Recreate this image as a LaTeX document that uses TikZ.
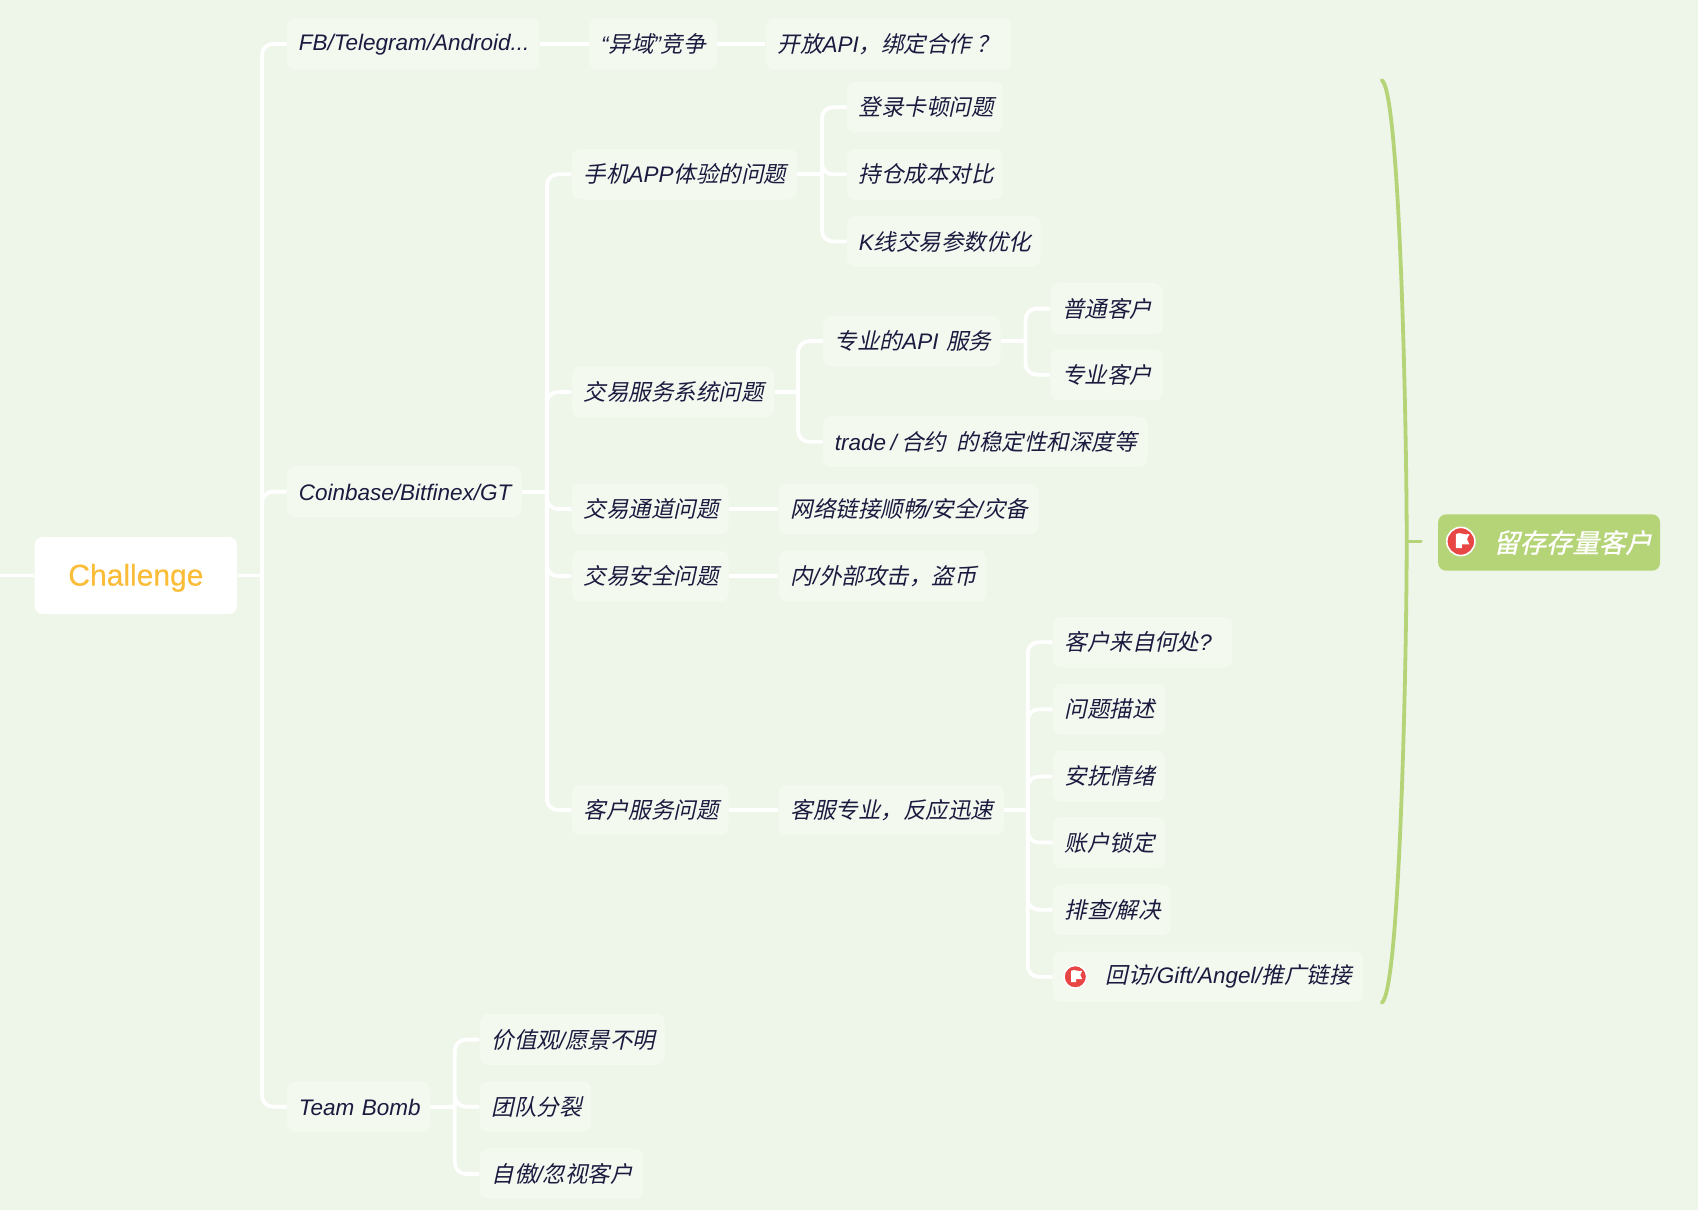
\documentclass[tikz,border=0pt]{standalone}
\usepackage{fontspec}
\setmainfont[FakeSlant=0.22]{Noto Sans CJK SC}
\newfontfamily\latit{Liberation Sans Italic}
\newfontfamily\latreg[FakeBold=0.3]{Liberation Sans}
\newfontfamily\sumfont[FakeSlant=0.22,FakeBold=0.9]{Noto Sans CJK SC}
\newcommand{\la}[1]{{\latit #1}}
\definecolor{bgc}{HTML}{EEF5E9}
\definecolor{boxc}{HTML}{F4F9F0}
\definecolor{inkc}{HTML}{1B1B3F}
\definecolor{orangec}{HTML}{FBBC37}
\definecolor{greenc}{HTML}{B5D477}
\definecolor{redc}{HTML}{E84545}
\tikzset{
  x=0.5415pt,y=-0.5415pt,
  mapbox/.style={rectangle,rounded corners=4pt,fill=boxc,text=inkc,minimum height=25.4pt,inner ysep=0pt,inner xsep=5.9pt,font=\fontsize{11.25}{14}\selectfont,align=left},
  link/.style={draw=white,line width=1.9pt},
  curve/.style={link,rounded corners=5.5pt},
  sumline/.style={draw=greenc,line width=1.9pt,line cap=round},
  flagmark/.style={fill=white,draw=none},
}
% name, x1, x2, y, text
\newcommand{\mn}[5]{\node[mapbox,text width={(#3-#2-22)*0.5415pt}] (#1) at ({(#2+#3)/2},#4) {\mbox{\vphantom{汉}#5}};}
% parent, bus coordinate, children
\newcommand{\fork}[3]{\draw[link] (#1.east) -- (#2|-#1.east);
  \foreach \c in {#3}{\draw[curve] (#2|-#1.east) |- (\c.west);}}
\newcommand{\flagicon}[3]{% x y r
  \fill[redc] (#1,#2) circle[radius=#3];
  \draw[white,line width=0.8pt] (#1,#2) circle[radius=#3];
  \fill[flagmark] ({#1-0.36*#3},{#2+0.48*#3}) -- ({#1-0.36*#3},{#2-0.52*#3}) .. controls ({#1-0.05*#3},{#2-0.72*#3}) and ({#1+0.2*#3},{#2-0.42*#3}) .. ({#1+0.6*#3},{#2-0.52*#3}) -- ({#1+0.44*#3},{#2-0.16*#3}) -- ({#1+0.6*#3},{#2+0.2*#3}) -- ({#1+0.08*#3},{#2+0.2*#3}) -- ({#1+0.08*#3},{#2+0.48*#3}) -- cycle;}
\begin{document}
\begin{tikzpicture}
\useasboundingbox[fill=bgc] (0,0) rectangle (1568,1117);
\node[rectangle,rounded corners=4pt,fill=white,text=orangec,minimum width={187*0.5415pt},minimum height={71*0.5415pt},inner sep=0pt,font=\fontsize{15}{18}\selectfont\latreg] (root) at (125.5,531.5) {\raisebox{-5pt}[0pt][0pt]{Challenge}};
\coordinate (start) at (0,531.5);
\mn{fb}{265}{498}{40.5}{\la{FB/Telegram/Android...}}
\mn{coin}{265}{482}{454}{\la{Coinbase/Bitfinex/GT}}
\mn{team}{265}{397}{1022}{\la{Team Bomb}}
\mn{yiyu}{544}{662}{40.5}{\la{“}异域\la{”}竞争}
\mn{open}{707}{934}{40.5}{开放\la{API}，绑定合作\hspace{2.7pt}？}
\mn{app}{528}{736}{161}{手机\la{APP}体验的问题}
\mn{svc}{528}{715}{362}{交易服务系统问题}
\mn{chan}{528}{673}{470}{交易通道问题}
\mn{safe}{528}{673}{532}{交易安全问题}
\mn{cust}{528}{673}{748}{客户服务问题}
\mn{login}{782}{926}{99}{登录卡顿问题}
\mn{cost}{782}{926}{161}{持仓成本对比}
\mn{kline}{782}{961}{223}{\la{K}线交易参数优化}
\mn{api}{760}{924}{315}{专业的\la{API} 服务}
\mn{trade}{760}{1060}{408}{\la{trade\hspace{2.2pt}/\hspace{2.2pt}}合约\hspace{5.3pt}的稳定性和深度等}
\mn{normal}{970}{1074}{285}{普通客户}
\mn{pro}{970}{1074}{346}{专业客户}
\mn{net}{719}{959}{470}{网络链接顺畅\la{/}安全\la{/}灾备}
\mn{attack}{719}{911}{532}{内\la{/}外部攻击，盗币}
\mn{fast}{719}{927}{748}{客服专业，反应迅速}
\mn{where}{972}{1138}{593}{客户来自何处\la{?}}
\mn{desc}{972}{1076}{655}{问题描述}
\mn{calm}{972}{1076}{717}{安抚情绪}
\mn{lock}{972}{1076}{778}{账户锁定}
\mn{solve}{972}{1081}{840}{排查\la{/}解决}
\mn{visit}{972}{1259}{902}{\hspace*{20.6pt}回访\la{/Gift/Angel/}推广链接}
\mn{value}{443}{614}{960}{价值观\la{/}愿景不明}
\mn{split}{443}{546}{1022}{团队分裂}
\mn{proud}{443}{594}{1084}{自傲\la{/}忽视客户}
\node[rectangle,rounded corners=4pt,fill=greenc,text=white,minimum width={205*0.5415pt},minimum height={52*0.5415pt},inner sep=0pt,font=\fontsize{13.2}{16}\selectfont\sumfont] (keep) at (1430.5,501) {\hspace*{23.5pt}留存存量客户};
\coordinate (b0) at (242,0);
\coordinate (b1) at (505,0);
\coordinate (b2) at (759,0);
\coordinate (b3) at (737,0);
\coordinate (b4) at (947,0);
\coordinate (b5) at (949,0);
\coordinate (b6) at (420,0);
\draw[link] (start) -- (root.west);
\fork{root}{b0}{fb,coin,team}
\draw[link] (fb.east) -- (yiyu.west);
\draw[link] (yiyu.east) -- (open.west);
\fork{coin}{b1}{app,svc,chan,safe,cust}
\fork{app}{b2}{login,cost,kline}
\fork{svc}{b3}{api,trade}
\fork{api}{b4}{normal,pro}
\draw[link] (chan.east) -- (net.west);
\draw[link] (safe.east) -- (attack.west);
\draw[link] (cust.east) -- (fast.west);
\fork{fast}{b5}{where,desc,calm,lock,solve,visit}
\fork{team}{b6}{value,split,proud}
\coordinate (braceTop) at (1276,74);
\coordinate (braceMid) at (1299,500);
\coordinate (braceBot) at (1276,926);
\coordinate (stub) at (1312,500);
\draw[sumline] (braceTop) .. controls (1293,85) and (1299,400) .. (braceMid) .. controls (1299,600) and (1293,915) .. (braceBot);
\draw[sumline] (braceMid) -- (stub);
\flagicon{1349}{500}{13}
\flagicon{993}{902}{10.5}
\end{tikzpicture}
\end{document}
